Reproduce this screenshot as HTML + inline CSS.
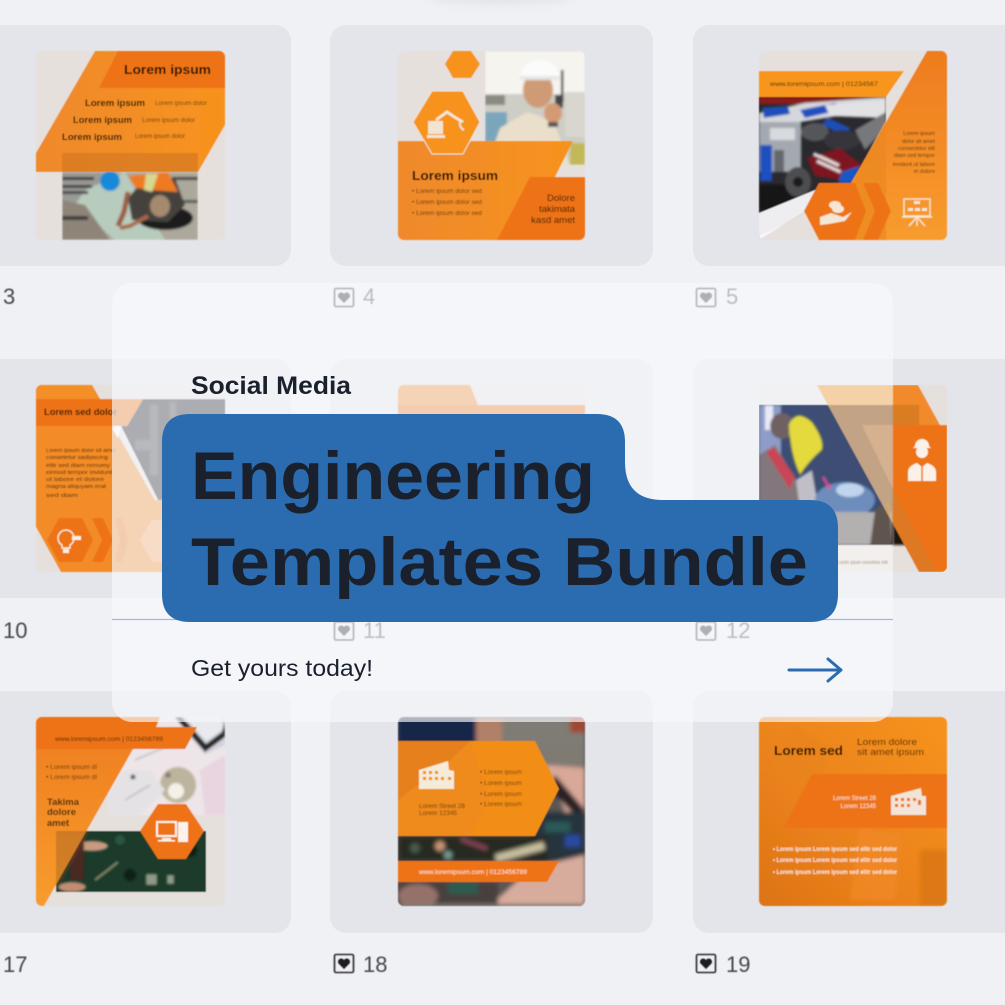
<!DOCTYPE html>
<html><head><meta charset="utf-8"><style>
html,body{margin:0;padding:0;background:#f0f1f5}
svg{display:block}
text{font-family:"Liberation Sans",sans-serif}
</style></head><body>
<svg width="1005" height="1005" viewBox="0 0 1005 1005" xmlns="http://www.w3.org/2000/svg">
<defs>
<filter id="b" x="-5%" y="-5%" width="110%" height="110%"><feGaussianBlur stdDeviation="0.45"/></filter>
<filter id="p" x="-20%" y="-20%" width="140%" height="140%"><feGaussianBlur stdDeviation="1"/></filter>
<filter id="q" x="-20%" y="-20%" width="140%" height="140%"><feGaussianBlur stdDeviation="2.2"/></filter>
<filter id="s" x="-50%" y="-100%" width="200%" height="300%"><feGaussianBlur stdDeviation="7"/></filter>
<clipPath id="c1"><rect x="36" y="51" width="189" height="189" rx="6"/></clipPath>
<clipPath id="c2"><rect x="398" y="51" width="187" height="189" rx="6"/></clipPath>
<clipPath id="c3"><rect x="759" y="51" width="188" height="189" rx="6"/></clipPath>
<clipPath id="c4"><rect x="36" y="385" width="189" height="187" rx="6"/></clipPath>
<clipPath id="c5"><rect x="398" y="385" width="187" height="187" rx="6"/></clipPath>
<clipPath id="c6"><rect x="759" y="385" width="188" height="187" rx="6"/></clipPath>
<clipPath id="c7"><rect x="36" y="717" width="189" height="189" rx="6"/></clipPath>
<clipPath id="c8"><rect x="398" y="717" width="187" height="189" rx="6"/></clipPath>
<clipPath id="c9"><rect x="759" y="717" width="188" height="189" rx="6"/></clipPath>
<clipPath id="ph1"><rect x="62" y="172" width="136" height="68"/></clipPath>
<clipPath id="ph2"><rect x="485" y="51" width="100" height="114"/></clipPath>
<clipPath id="ph3"><polygon points="759,97 886,97 886,120 852,183 759,240"/></clipPath>
<clipPath id="ph6"><rect x="759" y="405" width="160" height="140"/></clipPath>
<clipPath id="ph7"><rect x="56" y="831" width="150" height="61"/></clipPath>
<clipPath id="ph7b"><polygon points="133,749 108,793 108,815 225,815 225,717 145,717"/></clipPath>
<linearGradient id="g1" x1="0" y1="0" x2="1" y2="0"><stop offset="0" stop-color="#ef892c"/><stop offset="1" stop-color="#f7931e"/></linearGradient>
<linearGradient id="g2" x1="0" y1="0" x2="0" y2="1"><stop offset="0" stop-color="#ee7c1e"/><stop offset="1" stop-color="#f89c2e"/></linearGradient>
<linearGradient id="g3" x1="1" y1="0" x2="0" y2="1"><stop offset="0" stop-color="#f7931c"/><stop offset=".6" stop-color="#ea821c"/><stop offset="1" stop-color="#dd7415"/></linearGradient>
</defs>

<rect width="1005" height="1005" fill="#f0f1f5"/>
<ellipse cx="500" cy="-8" rx="75" ry="8" fill="#d8d9de" filter="url(#s)"/>

<!-- cards -->
<g fill="#e3e5ea">
<rect x="-40" y="25" width="331" height="241" rx="16"/><rect x="330" y="25" width="323" height="241" rx="16"/><rect x="693" y="25" width="340" height="241" rx="16"/>
<rect x="-40" y="359" width="331" height="239" rx="16"/><rect x="330" y="359" width="323" height="239" rx="16"/><rect x="693" y="359" width="340" height="239" rx="16"/>
<rect x="-40" y="691" width="331" height="242" rx="16"/><rect x="330" y="691" width="323" height="242" rx="16"/><rect x="693" y="691" width="340" height="242" rx="16"/>
</g>

<g filter="url(#b)">
<!-- T1 -->
<g clip-path="url(#c1)">
<rect x="36" y="51" width="189" height="189" fill="#e6e0dc"/>
<g clip-path="url(#ph1)"><g filter="url(#p)">
<rect x="62" y="172" width="136" height="68" fill="#aca89c"/>
<rect x="62" y="172" width="40" height="30" fill="#9a9a96"/>
<polygon points="85,190 125,172 150,215 165,240 115,240 75,205" fill="#b8ccbd"/>
<polygon points="62,200 85,205 110,240 62,240" fill="#8e8478"/>
<rect x="62" y="177" width="32" height="3" fill="#2e2e2e"/><rect x="62" y="185" width="30" height="3" fill="#383838"/><rect x="62" y="191" width="26" height="3" fill="#444"/><rect x="62" y="216" width="26" height="4" fill="#3a3a3a"/>
<rect x="172" y="177" width="26" height="3" fill="#3a3a3a"/><rect x="178" y="200" width="20" height="3" fill="#555"/>
<polygon points="125,240 128,222 185,205 198,214 190,240" fill="#c8c4b8" opacity="0"/>
<ellipse cx="165" cy="218" rx="28" ry="12" fill="#1f1f1d"/>
<polygon points="128,198 145,178 175,178 185,205 168,222 132,220" fill="#44423e"/>
<polygon points="128,176 168,172 178,192 150,190 136,188" fill="#ef7a20"/>
<polygon points="146,174 158,174 152,192 144,190" fill="#d8d890"/>
<ellipse cx="160" cy="206" rx="10" ry="11" fill="#a58a70"/>
<polyline points="128,192 124,212 118,226" stroke="#9a5c44" stroke-width="5" fill="none"/>
<polyline points="148,216 130,226 120,228" stroke="#a8684a" stroke-width="4" fill="none"/>
<ellipse cx="110" cy="181" rx="10" ry="10" fill="#1589d8"/>
</g></g>
<polygon points="95,51 225,51 225,125 198,172 36,172 36,153" fill="url(#g1)"/>
<polygon points="118,51 225,51 225,88 99,88" fill="#ee7316"/>
<rect x="62" y="153" width="136" height="19" fill="#c86f20" opacity=".5"/>
<text x="124" y="74" font-size="13" font-weight="700" fill="#1c0e04" textLength="87" lengthAdjust="spacingAndGlyphs">Lorem ipsum</text>
<g font-size="9.5" font-weight="700" fill="#2c1604">
<text x="85" y="106" textLength="60" lengthAdjust="spacingAndGlyphs">Lorem ipsum</text><text x="73" y="123" textLength="59" lengthAdjust="spacingAndGlyphs">Lorem ipsum</text><text x="62" y="140" textLength="60" lengthAdjust="spacingAndGlyphs">Lorem ipsum</text></g>
<g font-size="6" fill="#6b3d10">
<text x="155" y="105" textLength="52" lengthAdjust="spacingAndGlyphs">Lorem ipsum dolor</text><text x="142" y="122" textLength="53" lengthAdjust="spacingAndGlyphs">Lorem ipsum dolor</text><text x="135" y="138" textLength="50" lengthAdjust="spacingAndGlyphs">Lorem ipsum dolor</text></g>
</g>
<!-- T2 -->
<g clip-path="url(#c2)">
<rect x="398" y="51" width="187" height="189" fill="#e6e0dc"/>
<g clip-path="url(#ph2)"><g filter="url(#p)">
<rect x="485" y="51" width="100" height="114" fill="#f6f4ee"/>
<rect x="485" y="94" width="100" height="71" fill="#cecdc6"/>
<rect x="485" y="95" width="20" height="10" fill="#8a8a80"/>
<rect x="485" y="112" width="22" height="53" fill="#7aa6bc"/>
<rect x="565" y="92" width="20" height="45" fill="#d8d6ce"/>
<polygon points="487,165 500,128 527,112 540,116 555,125 570,165" fill="#e9dfca"/>
<ellipse cx="538" cy="90" rx="15" ry="18" fill="#cf9b76"/>
<path d="M520 79 Q522 60 540 60 Q558 61 560 78 Z" fill="#fbfbfb"/>
<rect x="520" y="76" width="40" height="4" fill="#e6e6e6"/>
<rect x="561" y="70" width="2.500" height="32" fill="#2a2a2a"/><rect x="555" y="95" width="8" height="13" fill="#444"/>
<ellipse cx="553" cy="113" rx="9" ry="10" fill="#d49a74"/>
<rect x="548" y="122" width="10" height="5" fill="#555"/>
<rect x="570" y="143" width="15" height="22" fill="#c2b858"/>
</g></g>
<polygon points="445,64 453,51 471,51 480,64 471,78 453,78" fill="#f7931e"/>
<polygon points="398,141 573,141 555,177 497,240 398,240" fill="url(#g1)"/>
<polygon points="413,122 432,91 463,91 480,122 463,154 432,154" fill="#f7931e" stroke="#f1e4d8" stroke-width="1"/>
<polygon points="530,177 585,177 585,240 497,240" fill="#ee7316"/>
<g fill="#f3e4d2"><rect x="428" y="121" width="15" height="13"/><rect x="427" y="135" width="18" height="3"/><polyline points="436,120 447,112 456,118 463,122" fill="none" stroke="#f3e4d2" stroke-width="3"/><path d="M460 122 a7 7 0 0 0 4 8" fill="none" stroke="#f3e4d2" stroke-width="2"/></g>
<text x="412" y="180" font-size="13" font-weight="700" fill="#1c0e04" textLength="86" lengthAdjust="spacingAndGlyphs">Lorem ipsum</text>
<g font-size="6.5" fill="#5a3510">
<text x="412" y="193" textLength="70" lengthAdjust="spacingAndGlyphs">• Lorem ipsum dolor sed</text><text x="412" y="204" textLength="70" lengthAdjust="spacingAndGlyphs">• Lorem ipsum dolor sed</text><text x="412" y="215" textLength="70" lengthAdjust="spacingAndGlyphs">• Lorem ipsum dolor sed</text></g>
<g font-size="9.5" fill="#2e1604" text-anchor="end"><text x="575" y="201">Dolore</text><text x="575" y="212">takimata</text><text x="575" y="223">kasd amet</text></g>
</g>
<!-- T3 -->
<g clip-path="url(#c3)">
<rect x="759" y="51" width="188" height="189" fill="#e6e0dc"/>
<g clip-path="url(#ph3)">
<rect x="759" y="97" width="127" height="143" fill="#2a2a2e"/>
<g filter="url(#p)">
<rect x="759" y="97" width="127" height="7" fill="#8c1a1e"/>
<polygon points="759,113 805,103 886,97 886,108 800,122 759,125" fill="#d4d8dc"/>
<polygon points="762,108 788,106 790,114 764,118" fill="#1f50b8"/>
<polygon points="800,110 835,103 840,110 805,118" fill="#2050c0"/>
<polygon points="825,105 886,100 886,118 830,116" fill="#e2e2e4"/>
<polygon points="828,118 850,128 846,138 822,124" fill="#1f4eb8"/>
<rect x="759" y="122" width="42" height="50" fill="#a4a8b0"/>
<rect x="770" y="128" width="25" height="12" fill="#d8dade"/>
<rect x="760" y="145" width="12" height="36" fill="#1f50c0"/>
<rect x="774" y="150" width="10" height="22" fill="#64686e"/>
<rect x="760" y="185" width="40" height="25" fill="#121214"/>
<ellipse cx="815" cy="132" rx="14" ry="9" fill="#55565a"/>
<ellipse cx="842" cy="140" rx="18" ry="10" fill="#34353a"/>
<polygon points="855,130 886,112 886,128 865,150" fill="#77787c"/>
<polygon points="807,158 840,148 862,165 842,180 815,176" fill="#7e1822"/>
<rect x="812" y="158" width="28" height="3" fill="#e8e0e0" transform="rotate(25 826 160)"/><rect x="816" y="165" width="26" height="3" fill="#e8e0e0" transform="rotate(25 829 166)"/>
<ellipse cx="798" cy="182" rx="13" ry="15" fill="#4e4e50"/>
<circle cx="798" cy="182" r="5" fill="#1c1c1e"/>
<polygon points="842,172 860,166 852,183 838,183" fill="#1858c8"/>
</g>
<polygon points="759,213 815,190 838,183 818,240 759,240" fill="#eeeef1"/>
<polygon points="759,236 790,222 812,240 759,240" fill="#f9f9fb"/>
</g>
<polygon points="759,71 904,71 886,97 759,97" fill="#f8951c"/>
<polygon points="927,51 947,51 947,240 818,240" fill="url(#g2)"/>
<polygon points="853,183 886,120 886,240 853,240" fill="#e9871e" opacity=".65"/>
<polygon points="804,211 819,183 855,183 866,211 855,240 819,240" fill="#ee7316"/>
<polygon points="863,183 878,183 891,211 878,240 863,240 875,211" fill="#ee7316"/>
<text x="770" y="86" font-size="6.5" fill="#4a2a08" textLength="108" lengthAdjust="spacingAndGlyphs">www.loremipsum.com | 01234567</text>
<g font-size="5.5" fill="#5a3510" text-anchor="end"><text x="935" y="135">Lorem ipsum</text><text x="935" y="143">dolor sit amet</text><text x="935" y="150">consectetur elit</text><text x="935" y="157">diam sed tempor</text><text x="935" y="166">Invidunt ut labore</text><text x="935" y="173">et dolore</text></g>
<g fill="none" stroke="#f6e6d4" stroke-width="1.4"><rect x="904" y="199" width="26" height="17"/><line x1="902" y1="217" x2="932" y2="217"/><line x1="917" y1="217" x2="909" y2="226"/><line x1="917" y1="217" x2="925" y2="226"/><line x1="917" y1="217" x2="917" y2="226"/></g>
<g fill="#f6e6d4"><rect x="914" y="201" width="6" height="3"/><rect x="908" y="208" width="5" height="3"/><rect x="915" y="208" width="5" height="3"/><rect x="922" y="208" width="5" height="3"/>
<ellipse cx="835" cy="205" rx="6" ry="4"/><ellipse cx="838" cy="209" rx="6" ry="4"/><path d="M820 217 L831 213 L843 217 L852 212 L845 221 L829 224 L820 225 Z"/></g>
</g>

<!-- T10 -->
<g clip-path="url(#c4)">
<rect x="36" y="385" width="189" height="187" fill="#e6e0dc"/>
<polygon points="127,426 143,399 225,399 225,520 158,500 121,426" fill="#18181a"/>
<g filter="url(#p)" fill="#3a3a3c"><rect x="150" y="405" width="8" height="70"/><rect x="170" y="402" width="6" height="50"/><rect x="135" y="440" width="15" height="10"/></g>
<polygon points="36,385 92,385 100,399 143,399 127,426 36,426" fill="#ee7316"/>
<polygon points="36,385 92,385 100,399 36,399" fill="#f48e26"/>
<polygon points="36,426 113,426 155,500 190,500 190,572 61,572 36,527" fill="#f38c26"/>
<polygon points="113,426 121,426 118,438 113,430" fill="#fff"/>
<polygon points="47,540 59,518 82,518 93,540 82,562 59,562" fill="#ee7316"/>
<polygon points="92,518 103,518 113,540 103,562 92,562 102,540" fill="#ee7316"/>
<polygon points="115,518 122,518 128,540 122,562 115,562 120,540" fill="#ee7316"/>
<polygon points="140,540 152,520 190,520 190,562 152,562" fill="#f7a860"/>
<g fill="none" stroke="#fbeedd" stroke-width="1.4"><path d="M62 545 a8 8 0 1 1 8 0 v3 h-8z"/></g><rect x="63" y="549" width="6" height="4" fill="#fbeedd"/><rect x="72" y="536" width="9" height="4" fill="#fbeedd"/>
<text x="44" y="415" font-size="9.5" font-weight="700" fill="#321804" textLength="73" lengthAdjust="spacingAndGlyphs">Lorem sed dolor</text>
<g font-size="5.5" fill="#44260a"><text x="46" y="452" textLength="70" lengthAdjust="spacingAndGlyphs">Lorem ipsum dolor sit amet</text><text x="46" y="459" textLength="62" lengthAdjust="spacingAndGlyphs">consetetur sadipscing</text><text x="46" y="467" textLength="64" lengthAdjust="spacingAndGlyphs">elitr sed diam nonumy</text><text x="46" y="474" textLength="66" lengthAdjust="spacingAndGlyphs">eirmod tempor invidunt</text><text x="46" y="481" textLength="58" lengthAdjust="spacingAndGlyphs">ut labore et dolore</text><text x="46" y="488" textLength="60" lengthAdjust="spacingAndGlyphs">magna aliquyam erat</text><text x="46" y="497" textLength="32" lengthAdjust="spacingAndGlyphs">sed diam</text></g>
</g>
<!-- T11 -->
<g clip-path="url(#c5)">
<rect x="398" y="385" width="187" height="187" fill="#e6e0dc"/>
<polygon points="398,385 470,385 478,405 398,405" fill="#f08a2c"/>
<rect x="398" y="405" width="187" height="30" fill="#ee7316"/>
<rect x="398" y="435" width="100" height="137" fill="#f59028"/>
</g>
<!-- T12 base -->
<g clip-path="url(#c6)">
<rect x="759" y="385" width="188" height="187" fill="#e6e0dc"/>
</g>

<!-- T17 -->
<g clip-path="url(#c7)">
<rect x="36" y="717" width="189" height="189" fill="#e6e0dc"/>
<g clip-path="url(#ph7b)"><rect x="100" y="717" width="125" height="98" fill="#eee5e8"/>
<g filter="url(#p)">
<polygon points="175,717 225,717 225,745 205,755" fill="#d2d4da"/>
<polygon points="175,717 182,717 206,744 222,732 225,722 225,737 205,752" fill="#262626"/>
<polygon points="185,717 222,717 222,730 206,741" fill="#e8eaee"/>
<circle cx="178" cy="785" r="18" fill="#bdb49e"/><circle cx="176" cy="791" r="8" fill="#f4f1e8"/><circle cx="168" cy="775" r="3" fill="#8a8276"/>
<polygon points="108,795 122,770 150,770 165,790 140,815 108,815" fill="#e4e2e4"/>
<circle cx="133" cy="777" r="2.500" fill="#555"/>
<line x1="135" y1="760" x2="170" y2="745" stroke="#aaa" stroke-width="1"/><line x1="125" y1="800" x2="150" y2="785" stroke="#9a9a9a" stroke-width="1"/>
<polygon points="200,770 225,755 225,815 205,815" fill="#e8d5e0"/>
</g></g>
<g clip-path="url(#ph7)"><rect x="56" y="831" width="150" height="61" fill="#1c3a2a"/>
<g filter="url(#p)"><ellipse cx="92" cy="846" rx="16" ry="5" fill="#c89a80"/><ellipse cx="72" cy="887" rx="14" ry="5" fill="#c08c72"/>
<polyline points="118,862 108,870 95,880" stroke="#8a8a6a" stroke-width="2.500" fill="none"/><rect x="146" y="874" width="11" height="11" fill="#8f9a84"/><rect x="167" y="875" width="7" height="9" fill="#8f9a84"/><rect x="70" y="835" width="14" height="45" fill="#4a2a20"/><circle cx="120" cy="840" r="5" fill="#2c5440"/><circle cx="190" cy="850" r="7" fill="#0f2218"/><circle cx="130" cy="875" r="6" fill="#0f2218"/></g></g>
<polygon points="36,717 160,717 156,727 197,727 185,749 133,749 44,906 36,906" fill="url(#g2)"/>
<polygon points="36,717 160,717 156,727 197,727 185,749 36,749" fill="#ee7316"/>
<polygon points="56,831 90,831 56,892" fill="#7a4a20" opacity=".3"/>
<polygon points="140,831 158,804 186,804 204,831 186,859 158,859" fill="#ee7316"/>
<g fill="#fdf3e8"><rect x="157" y="822" width="19" height="14" fill="none" stroke="#fdf3e8" stroke-width="2"/><rect x="162" y="838" width="9" height="2"/><rect x="158" y="840" width="17" height="1.500"/><rect x="178" y="822" width="10" height="20"/></g>
<text x="55" y="741" font-size="6.2" fill="#4a2a08" textLength="108" lengthAdjust="spacingAndGlyphs">www.loremipsum.com | 0123456789</text>
<g font-size="6" fill="#5a3510"><text x="46" y="769" textLength="51" lengthAdjust="spacingAndGlyphs">• Lorem ipsum dl</text><text x="46" y="779" textLength="51" lengthAdjust="spacingAndGlyphs">• Lorem ipsum dl</text></g>
<g font-size="9.5" font-weight="700" fill="#4a2806"><text x="47" y="805">Takima</text><text x="47" y="815">dolore</text><text x="47" y="826">amet</text></g>
</g>
<!-- T18 -->
<g clip-path="url(#c8)">
<rect x="398" y="717" width="187" height="189" fill="#5c5654"/>
<g filter="url(#q)">
<rect x="398" y="717" width="78" height="30" fill="#12264a"/>
<rect x="476" y="717" width="26" height="30" fill="#b08068"/>
<rect x="502" y="717" width="83" height="30" fill="#7e7c74"/>
<rect x="570" y="717" width="15" height="16" fill="#a04a30"/>
<rect x="530" y="745" width="55" height="35" fill="#7f7a72"/>
<polygon points="545,765 585,768 585,815 565,812" fill="#d8a898"/>
<polygon points="555,775 585,810 578,818 548,788" fill="#2c2428"/>
<rect x="530" y="812" width="55" height="50" fill="#26343c"/>
<rect x="545" y="822" width="25" height="10" fill="#2a5a58"/><rect x="565" y="835" width="15" height="12" fill="#2a4aa0"/>
<rect x="398" y="836" width="150" height="25" fill="#262a22"/>
<circle cx="440" cy="846" r="5" fill="#c89878"/><circle cx="448" cy="855" r="4" fill="#7aa098"/><rect x="460" y="842" width="28" height="4" fill="#8a4458" transform="rotate(20 474 844)"/><rect x="495" y="848" width="50" height="8" fill="#c9bfa0" transform="rotate(-15 520 852)"/><circle cx="415" cy="848" r="5" fill="#485a48"/>
<polygon points="490,906 530,868 585,855 585,906" fill="#d8ac9c"/>
<rect x="398" y="882" width="100" height="24" fill="#48403e"/>
<ellipse cx="418" cy="896" rx="20" ry="12" fill="#94726a"/>
<rect x="448" y="882" width="30" height="12" fill="#2f5a50"/>
<rect x="398" y="904" width="187" height="4" fill="#807870"/>
</g>
<polygon points="398,741 535,741 559,789 535,836 398,836" fill="#ef8a1c"/>
<polygon points="470,741 535,741 559,789 535,836 470,836 490,800" fill="#f39018" opacity=".7"/>
<polygon points="398,741 470,741 450,760 398,800" fill="#e07a1a" opacity=".6"/>
<polygon points="398,861 559,861 547,882 398,882" fill="#ee7316"/>
<g fill="#f6ead8"><polygon points="419,770 448,761 449,770 454,771 454,789 419,789"/></g>
<g fill="#ef8a1c"><rect x="423" y="771" width="3" height="3"/><rect x="429" y="771" width="3" height="3"/><rect x="435" y="771" width="3" height="3"/><rect x="423" y="777" width="3" height="3"/><rect x="429" y="777" width="3" height="3"/><rect x="435" y="777" width="3" height="3"/><rect x="441" y="777" width="3" height="3"/><rect x="448" y="777" width="3" height="3"/></g>
<g font-size="6" fill="#6a3a08"><text x="419" y="808" textLength="46" lengthAdjust="spacingAndGlyphs">Lorem Street 28</text><text x="419" y="815" textLength="38" lengthAdjust="spacingAndGlyphs">Lorem 12345</text>
<text x="480" y="774" textLength="42" lengthAdjust="spacingAndGlyphs">• Lorem ipsum</text><text x="480" y="785" textLength="42" lengthAdjust="spacingAndGlyphs">• Lorem ipsum</text><text x="480" y="796" textLength="42" lengthAdjust="spacingAndGlyphs">• Lorem ipsum</text><text x="480" y="806" textLength="42" lengthAdjust="spacingAndGlyphs">• Lorem ipsum</text></g>
<text x="419" y="874" font-size="6.5" fill="#fbeadb" textLength="108" lengthAdjust="spacingAndGlyphs">www.loremipsum.com | 0123456789</text>
</g>
<!-- T19 -->
<g clip-path="url(#c9)">
<rect x="759" y="717" width="188" height="189" fill="url(#g3)"/>
<g filter="url(#q)">
<polygon points="770,770 790,725 830,745 810,800" fill="#e8831e" opacity=".7"/>
<polygon points="860,828 900,835 895,900 850,900" fill="#f08a28" opacity=".8"/>
<rect x="920" y="850" width="27" height="56" fill="#d87414" opacity=".8"/>
</g>
<polygon points="812,774 947,774 947,828 783,828" fill="#ee7316"/>
<text x="774" y="755" font-size="13" font-weight="700" fill="#1c0e04" textLength="69" lengthAdjust="spacingAndGlyphs">Lorem sed</text>
<g font-size="8.8" fill="#4a2606"><text x="857" y="745" textLength="60" lengthAdjust="spacingAndGlyphs">Lorem dolore</text><text x="857" y="755" textLength="67" lengthAdjust="spacingAndGlyphs">sit amet ipsum</text></g>
<g font-size="6" fill="#fbe9d8" text-anchor="end"><text x="876" y="800">Lorem Street 28</text><text x="876" y="808">Lorem 12345</text></g>
<polygon points="891,796 921,788 922,796 926,796 926,815 891,815" fill="#f2e4d6"/>
<g fill="#ee7316"><rect x="895" y="798" width="3" height="3"/><rect x="901" y="798" width="3" height="3"/><rect x="907" y="798" width="3" height="3"/><rect x="913" y="798" width="3" height="3"/><rect x="895" y="804" width="3" height="3"/><rect x="901" y="804" width="3" height="3"/><rect x="907" y="804" width="3" height="3"/><rect x="918" y="800" width="3" height="5"/></g>
<g font-size="6" font-weight="700" fill="#fbeadb"><text x="773" y="851" textLength="124" lengthAdjust="spacingAndGlyphs">• Lorem ipsum Lorem ipsum sed elitr sed dolor</text><text x="773" y="862" textLength="124" lengthAdjust="spacingAndGlyphs">• Lorem ipsum Lorem ipsum sed elitr sed dolor</text><text x="773" y="874" textLength="124" lengthAdjust="spacingAndGlyphs">• Lorem ipsum Lorem ipsum sed elitr sed dolor</text></g>
</g>
</g>

<!-- labels -->
<g font-size="22" fill="#44474e" filter="url(#b)">
<text x="3" y="304">3</text><text x="363" y="304">4</text><text x="726" y="304">5</text>
<text x="3" y="638">10</text><text x="363" y="638">11</text><text x="726" y="638">12</text>
<text x="3" y="972">17</text><text x="363" y="972">18</text><text x="726" y="972">19</text>
</g>
<g fill="none" stroke="#2a2c30" stroke-width="1.6" filter="url(#b)">
<rect x="334.500" y="288.500" width="19" height="18" rx="1.500"/><rect x="696.500" y="288.500" width="19" height="18" rx="1.500"/>
<rect x="334.500" y="622" width="19" height="18" rx="1.500"/><rect x="696.500" y="622" width="19" height="18" rx="1.500"/>
<rect x="334.500" y="954.500" width="19" height="18" rx="1.500"/><rect x="696.500" y="954.500" width="19" height="18" rx="1.500"/>
</g>
<g fill="#1c1e22" filter="url(#b)">
<path d="M344 303 l-5.500-5.500 a3 3 0 0 1 5.500-3.500 a3 3 0 0 1 5.500 3.500z"/>
<path d="M706 303 l-5.500-5.500 a3 3 0 0 1 5.500-3.500 a3 3 0 0 1 5.500 3.500z"/>
<path d="M344 636 l-5.500-5.500 a3 3 0 0 1 5.500-3.500 a3 3 0 0 1 5.500 3.500z"/>
<path d="M706 636 l-5.500-5.500 a3 3 0 0 1 5.500-3.500 a3 3 0 0 1 5.500 3.500z"/>
<path d="M344 969 l-5.500-5.500 a3 3 0 0 1 5.500-3.500 a3 3 0 0 1 5.500 3.500z"/>
<path d="M706 969 l-5.500-5.500 a3 3 0 0 1 5.500-3.500 a3 3 0 0 1 5.500 3.500z"/>
</g>

<!-- overlay panel -->
<rect x="112" y="283" width="781" height="439" rx="20" fill="#f6f8fc" opacity=".67"/>

<!-- T12 photo and panels, kept vivid above the panel -->
<g filter="url(#b)" clip-path="url(#c6)">
<g clip-path="url(#ph6)" opacity=".86">
<rect x="759" y="405" width="160" height="140" fill="#20345e"/>
<g filter="url(#p)">
<rect x="759" y="405" width="22" height="50" fill="#7d8ec0"/>
<rect x="765" y="405" width="8" height="25" fill="#e8e8f8"/>
<polygon points="759,455 775,445 795,478 812,545 759,545" fill="#6e6468"/>
<ellipse cx="782" cy="426" rx="12" ry="13" fill="#5a4a4c"/>
<polygon points="766,452 774,447 795,476 790,490" fill="#c02c3c"/>
<path d="M789 425 Q796 408 812 422 Q825 440 822 450 Q810 460 800 475 Q790 455 789 425Z" fill="#e2d61e"/>
<polygon points="796,480 812,470 818,505 800,510" fill="#b8b6be"/>
<ellipse cx="845" cy="500" rx="30" ry="18" fill="#587cb4"/>
<ellipse cx="850" cy="490" rx="14" ry="7" fill="#b8d0ec"/>
<rect x="812" y="512" width="80" height="33" fill="#a8a6a4"/>
<rect x="825" y="476" width="3" height="14" fill="#d82c80" transform="rotate(-30 826 483)"/>
<polygon points="875,510 890,500 892,545 870,545" fill="#4a3a32"/>
<polygon points="892,500 919,530 919,545 892,545" fill="#181210"/>
</g></g>
<rect x="759" y="545" width="134" height="27" fill="#f2efec"/>
<text x="838" y="564" font-size="5" fill="#a09084" textLength="50" lengthAdjust="spacingAndGlyphs">Lorem ipsum consetetur elitr</text>
<rect x="893" y="385" width="54" height="187" fill="#e6e0dc"/>
<g filter="url(#p)" opacity="1"><rect x="893" y="405" width="26" height="140" fill="#1a1210"/></g>
<polygon points="817,385 893,385 893,524" fill="#f6c58c" opacity=".72"/>
<polygon points="862,425 893,425 893,489" fill="#f9c8a0" opacity=".35"/>
<polygon points="893,385 918,385 940,425 947,425 947,572 919,572 893,524" fill="#f08a2c"/>
<rect x="893" y="405" width="26" height="20" fill="#c8701c" opacity=".55"/>
<polygon points="893,425 947,425 947,572 937,572 893,489" fill="#ee7316"/>
<polygon points="893,489 937,572 919,572 893,524" fill="#d06a18" opacity=".55"/>
<g fill="#fbf1e6"><circle cx="922" cy="452" r="6"/><path d="M915 446 a7 7 0 0 1 14 0 l2 2 h-18z"/><path d="M908 481 v-9 q0-6 9-9 l5 4 l5-4 q9 3 9 9 v9 z"/></g>
<rect x="921.300" y="465" width="1.500" height="17" fill="#ee7316"/>
</g>

<line x1="112" y1="619.500" x2="893" y2="619.500" stroke="#9dbbdc" stroke-width="1.200"/>

<path d="M190 414 H597 Q625 414 625 442 V462 Q625 500 663 500 H810 Q838 500 838 528 V594 Q838 622 810 622 H190 Q162 622 162 594 V442 Q162 414 190 414 Z" fill="#2b6cb0"/>

<text x="191" y="394" font-size="25" font-weight="700" fill="#1a202c" textLength="160" lengthAdjust="spacingAndGlyphs">Social Media</text>
<text x="191" y="499" font-size="68" font-weight="700" fill="#1a202c" textLength="404" lengthAdjust="spacingAndGlyphs">Engineering</text>
<text x="191" y="585" font-size="68" font-weight="700" fill="#1a202c" textLength="617" lengthAdjust="spacingAndGlyphs">Templates Bundle</text>
<text x="191" y="676" font-size="23" fill="#1a202c" textLength="182" lengthAdjust="spacingAndGlyphs">Get yours today!</text>

<g fill="none" stroke="#2b6cb0" stroke-width="3" stroke-linecap="round" stroke-linejoin="round">
<line x1="789" y1="670" x2="840" y2="670"/><polyline points="828,659 841,670 828,681"/>
</g>
</svg>
</body></html>
